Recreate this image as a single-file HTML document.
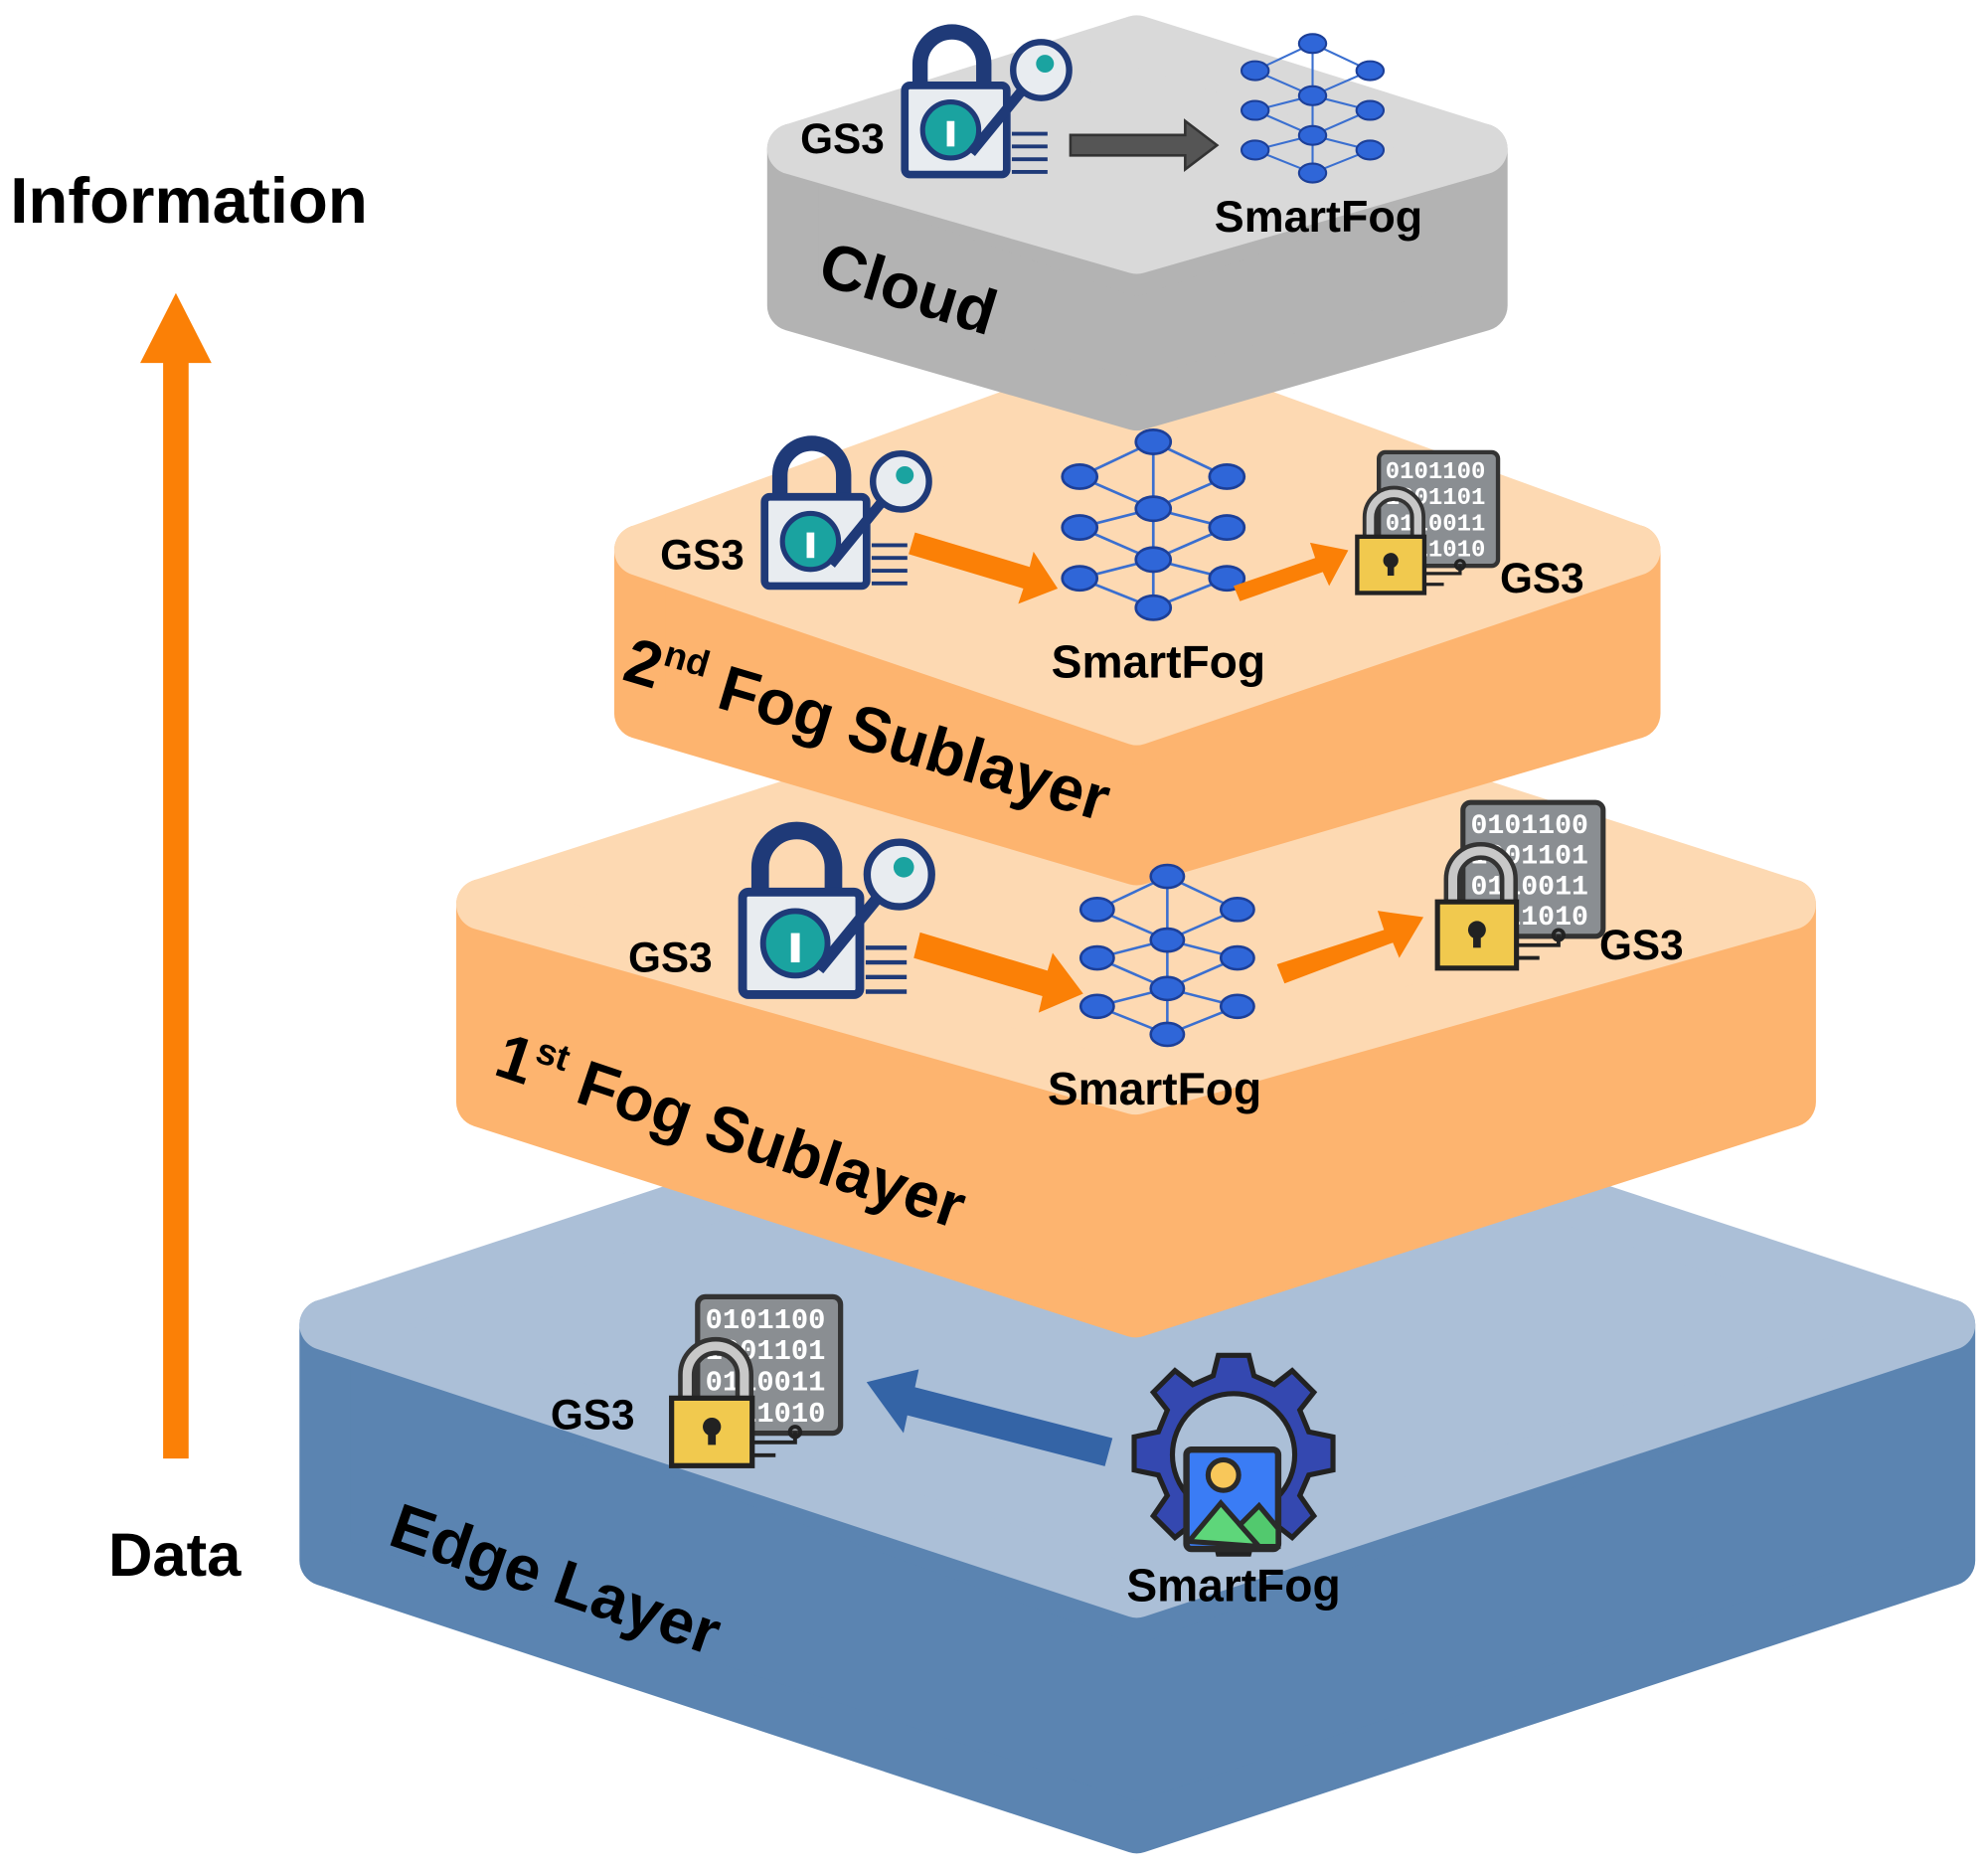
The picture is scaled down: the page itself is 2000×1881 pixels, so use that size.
<!DOCTYPE html>
<html><head><meta charset="utf-8"><style>
html,body{margin:0;padding:0;background:#fff;}
svg{display:block;}
text{font-family:"Liberation Sans",Arial,sans-serif;font-weight:bold;fill:#000;}
</style></head><body>
<svg width="2000" height="1881" viewBox="0 0 1560 1468" preserveAspectRatio="none" xmlns="http://www.w3.org/2000/svg">
<defs>
<g id="net">
 <g stroke="#3a6fd0" stroke-width="2" fill="none">
  <line x1="0" y1="-62" x2="0" y2="62"/>
  <line x1="0" y1="-62" x2="-55" y2="-36"/><line x1="0" y1="-62" x2="55" y2="-36"/>
  <line x1="-55" y1="-36" x2="0" y2="-12"/><line x1="55" y1="-36" x2="0" y2="-12"/>
  <line x1="0" y1="-12" x2="-55" y2="2"/><line x1="0" y1="-12" x2="55" y2="2"/>
  <line x1="-55" y1="2" x2="0" y2="26"/><line x1="55" y1="2" x2="0" y2="26"/>
  <line x1="0" y1="26" x2="-55" y2="40"/><line x1="0" y1="26" x2="55" y2="40"/>
  <line x1="-55" y1="40" x2="0" y2="62"/><line x1="55" y1="40" x2="0" y2="62"/>
 </g>
 <g fill="#2f66d8" stroke="#1c3f98" stroke-width="2">
  <ellipse cx="0" cy="-62" rx="13" ry="9"/><ellipse cx="-55" cy="-36" rx="13" ry="9"/><ellipse cx="55" cy="-36" rx="13" ry="9"/>
  <ellipse cx="0" cy="-12" rx="13" ry="9"/><ellipse cx="-55" cy="2" rx="13" ry="9"/><ellipse cx="55" cy="2" rx="13" ry="9"/>
  <ellipse cx="0" cy="26" rx="13" ry="9"/><ellipse cx="-55" cy="40" rx="13" ry="9"/><ellipse cx="55" cy="40" rx="13" ry="9"/>
  <ellipse cx="0" cy="62" rx="13" ry="9"/>
 </g>
</g>
<g id="key">
 <path d="M10 45 V25 A25 25 0 0 1 60 25 V45" fill="none" stroke="#1f3a78" stroke-width="12"/>
 <rect x="-2" y="42" width="80" height="70" rx="4" fill="#e8ecf0" stroke="#1f3a78" stroke-width="6"/>
 <circle cx="34" cy="77" r="22" fill="#1aa3a0" stroke="#1f3a78" stroke-width="4"/>
 <rect x="31" y="70" width="6" height="20" fill="#fff"/>
 <circle cx="105" cy="30" r="22" fill="#e8ecf0" stroke="#1f3a78" stroke-width="5"/>
 <circle cx="108" cy="25" r="7" fill="#1aa3a0"/>
 <line x1="90" y1="46" x2="50" y2="95" stroke="#1f3a78" stroke-width="8"/>
 <g stroke="#1f3a78" stroke-width="3"><line x1="82" y1="80" x2="110" y2="80"/><line x1="82" y1="90" x2="110" y2="90"/><line x1="82" y1="100" x2="110" y2="100"/><line x1="82" y1="110" x2="110" y2="110"/></g>
</g>
<g id="bin">
 <rect x="20" y="0" width="110" height="105" rx="6" fill="#8a8e92" stroke="#333" stroke-width="4"/>
 <text x="26" y="24" font-size="22" style="fill:#fff;font-family:'Liberation Mono',monospace">0101100</text>
 <text x="26" y="48" font-size="22" style="fill:#fff;font-family:'Liberation Mono',monospace">1001101</text>
 <text x="26" y="72" font-size="22" style="fill:#fff;font-family:'Liberation Mono',monospace">0110011</text>
 <text x="26" y="96" font-size="22" style="fill:#fff;font-family:'Liberation Mono',monospace">1011010</text>
 <path d="M12 80 V60 A22 22 0 0 1 56 60 V80" fill="none" stroke="#333" stroke-width="14"/>
 <path d="M12 80 V60 A22 22 0 0 1 56 60 V80" fill="none" stroke="#c8c8c8" stroke-width="7"/>
 <rect x="0" y="78" width="62" height="52" fill="#f1c94e" stroke="#222" stroke-width="4"/>
 <circle cx="31" cy="100" r="7" fill="#222"/><rect x="28" y="100" width="6" height="14" fill="#222"/>
 <path d="M62 112 H95 V104 M62 122 H80" stroke="#222" stroke-width="3" fill="none"/>
 <circle cx="95" cy="104" r="4" fill="none" stroke="#222" stroke-width="3"/>
</g>
</defs>

<g stroke-linejoin="round" stroke-width="40">
<polygon points="255,1040 892,1270 1530,1040 1530,1225 892,1435 255,1225" fill="#5b84b1" stroke="#5b84b1"/>
<polygon points="255,1040 892,830 1530,1040 892,1250" fill="#abbfd7" stroke="#abbfd7"/>
<polygon points="378,710 891,870 1405,710 1405,865 891,1030 378,865" fill="#fdb46f" stroke="#fdb46f"/>
<polygon points="378,710 891,545 1405,710 891,855" fill="#fdd9b2" stroke="#fdd9b2"/>
<polygon points="502,432 892,580 1283,432 1283,560 892,675 502,560" fill="#fdb46f" stroke="#fdb46f"/>
<polygon points="502,432 892,290 1283,432 892,565" fill="#fdd9b2" stroke="#fdd9b2"/>
<polygon points="622,117 892,212 1163,117 1163,240 892,318 622,240" fill="#b3b3b3" stroke="#b3b3b3"/>
<polygon points="622,117 892,32 1163,117 892,195" fill="#d9d9d9" stroke="#d9d9d9"/>
</g>

<rect x="128" y="283" width="20" height="862" fill="#fb8006"/>
<polygon points="110,285 138,230 166,285" fill="#fb8006"/>
<text x="8" y="175" font-size="51">Information</text>
<text x="85" y="1237" font-size="48">Data</text>

<use href="#key" x="712" y="25"/>
<text x="628" y="120" font-size="33">GS3</text>
<polygon points="840,106 930,106 930,95 955,114 930,133 930,122 840,122" fill="#555" stroke="#333" stroke-width="2"/>
<use href="#net" transform="translate(1030,85) scale(0.82)"/>
<text x="953" y="182" font-size="35">SmartFog</text>
<text transform="translate(640,222) rotate(17)" font-size="50">Cloud</text>

<use href="#key" x="602" y="348"/>
<text x="518" y="447" font-size="33">GS3</text>
<polygon points="718,418 808,445 811,433 830,462 799,474 803,462 713,435" fill="#fb8006"/>
<use href="#net" transform="translate(905,412) scale(1.05)"/>
<polygon points="968,460 1032,438 1028,426 1058,432 1043,460 1038,449 973,472" fill="#fb8006"/>
<use href="#bin" transform="translate(1065,355) scale(0.85)"/>
<text x="1177" y="465" font-size="33">GS3</text>
<text x="825" y="532" font-size="36">SmartFog</text>
<text transform="translate(487,533) rotate(16.5)" font-size="50">2<tspan font-size="29" dy="-20">nd</tspan><tspan dy="20"> Fog Sublayer</tspan></text>

<use href="#key" transform="translate(585,652) scale(1.15)"/>
<text x="493" y="763" font-size="33">GS3</text>
<polygon points="722,732 822,762 826,748 850,780 815,795 818,782 717,752" fill="#fb8006"/>
<use href="#net" transform="translate(916,750) scale(1.0)"/>
<polygon points="1002,757 1086,730 1081,715 1117,720 1098,752 1093,740 1008,772" fill="#fb8006"/>
<use href="#bin" transform="translate(1128,630) scale(1.0)"/>
<text x="1255" y="753" font-size="33">GS3</text>
<text x="822" y="867" font-size="36">SmartFog</text>
<text transform="translate(386,843) rotate(18.5)" font-size="50">1<tspan font-size="29" dy="-20">st</tspan><tspan dy="20"> Fog Sublayer</tspan></text>

<use href="#bin" transform="translate(527,1018) scale(1.02)"/>
<text x="432" y="1122" font-size="33">GS3</text>
<polygon points="873,1129 718,1089 721,1075 680,1085 709,1125 712,1111 867,1151" fill="#3464a6"/>
<g transform="translate(968,1142)">
 <g fill="#3448b0" stroke="#222" stroke-width="4">
  <path d="M-12,-78 H12 L16,-62 L32,-55 L46,-66 L63,-49 L52,-35 L59,-18 L78,-14 V12 L59,16 L52,32 L63,48 L46,65 L32,54 L16,61 L12,78 H-12 L-16,61 L-32,54 L-46,65 L-63,48 L-52,32 L-59,16 L-78,12 V-14 L-59,-18 L-52,-35 L-63,-49 L-46,-66 L-32,-55 L-16,-62 Z"/>
 </g>
 <circle r="48" fill="#abbfd7" stroke="#222" stroke-width="4"/>
 <rect x="-37" y="-4" width="72" height="78" rx="4" fill="#3a7cf5" stroke="#2a2a2a" stroke-width="5"/>
 <circle cx="-8" cy="16" r="12" fill="#f8c75a" stroke="#2a2a2a" stroke-width="4"/>
 <path d="M-35,68 L-10,38 L20,72 Z" fill="#5ed67a" stroke="#2a2a2a" stroke-width="4"/>
 <path d="M5,55 L20,40 L35,58 V72 H20 Z" fill="#52c96e" stroke="#2a2a2a" stroke-width="4"/>
</g>
<text x="884" y="1257" font-size="36">SmartFog</text>
<text transform="translate(303,1212) rotate(19)" font-size="50">Edge Layer</text>
</svg>
</body></html>
